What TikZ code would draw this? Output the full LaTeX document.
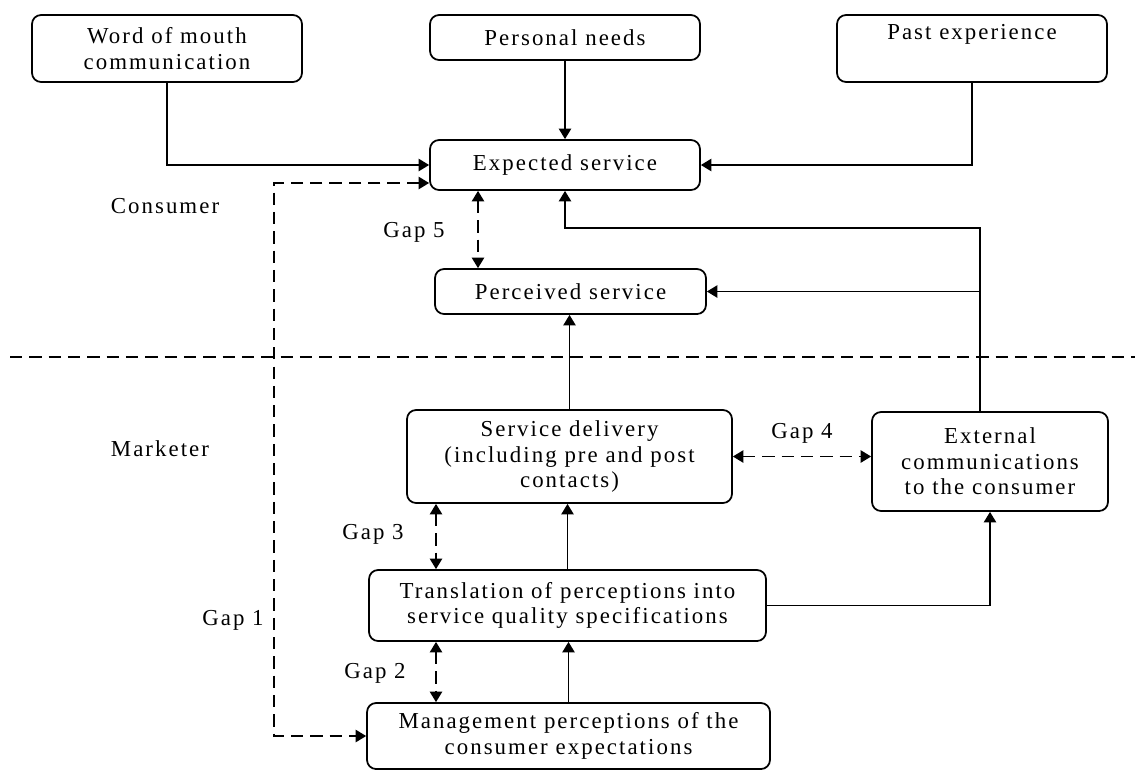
\documentclass[tikz,border=0pt]{standalone}
\usepackage{fontspec}
\setmainfont{Liberation Serif}[LetterSpace=9]
\usetikzlibrary{arrows.meta}
\tikzset{
  box/.style={draw, rounded corners=0.18cm, align=center, inner sep=0pt},
  flow/.style={-{Triangle[length=6pt,width=7pt]}},
  gapline/.style={dash pattern=on 7pt off 4pt, {Triangle[length=6pt,width=7pt]}-{Triangle[length=6pt,width=7pt]}},
}
\begin{document}
\begin{tikzpicture}[x=0.02cm, y=-0.02cm, line width=1pt, every node/.style={font=\fontsize{13}{14.5}\selectfont}]
  \useasboundingbox (0,0) rectangle (1135,769);
  \node[box, minimum width=5.4cm, minimum height=1.34cm] (mouth) at (167,48.5) {Word of mouth\\communication};
  \node[box, minimum width=5.4cm, minimum height=0.9cm] (needs) at (565,37.5) {Personal needs};
  \node[box, minimum width=5.4cm, minimum height=1.34cm] (past) at (972,48.5) {Past experience\\\strut};
  \node[box, minimum width=5.4cm, minimum height=1cm] (expected) at (565,165) {Expected service};
  \node[box, minimum width=5.42cm, minimum height=0.9cm] (perceived) at (570.5,291.5) {Perceived service};
  \node[box, minimum width=6.5cm, minimum height=1.86cm] (delivery) at (569.5,456.5) {Service delivery\\(including pre and post\\contacts)};
  \node[box, minimum width=4.72cm, minimum height=1.98cm] (external) at (990,461.5) {External\\communications\\to the consumer};
  \node[box, minimum width=7.94cm, minimum height=1.42cm] (translation) at (567.5,605.5) {Translation of perceptions into\\service quality specifications};
  \node[box, minimum width=8.06cm, minimum height=1.32cm] (mgmt) at (568.5,736) {Management perceptions of the\\consumer expectations};

  \node (consumer) at (165,206) {Consumer};
  \node (marketer) at (160,449) {Marketer};
  \node (gap1) at (233,620) {Gap 1};
  \node (gap2) at (375,673) {Gap 2};
  \node (gap3) at (373,534) {Gap 3};
  \node (gap4) at (802,433) {Gap 4};
  \node (gap5) at (414,232) {Gap 5};

  \coordinate (divl) at (10,357);
  \coordinate (divr) at (1135,357);
  \draw[dash pattern=on 7pt off 4pt] (divl) -- (divr);

  \draw[flow] (mouth.south) |- (expected.west);
  \draw[flow] (needs) -- (expected);
  \draw[flow] (past.south) |- (expected.east);
  \coordinate (bend) at (980,228);
  \draw[flow] (external.north -| bend) -- (bend) -| (expected.south);
  \draw[flow] (bend |- perceived.east) -- (perceived.east);
  \draw[flow] (delivery.north) -- (delivery.north |- perceived.south);
  \draw[flow] (translation.north) -- (translation.north |- delivery.south);
  \draw[flow] (mgmt.north) -- (mgmt.north |- translation.south);
  \draw[flow] (translation.east) -| (external.south);

  \coordinate (g1) at (274,183);
  \coordinate (g5) at (478,0);
  \coordinate (g23) at (436,0);
  \draw[gapline] (g1 -| expected.west) -- (g1) |- (mgmt.west);
  \draw[gapline] (expected.south -| g5) -- (perceived.north -| g5);
  \draw[gapline] (delivery.south -| g23) -- (translation.north -| g23);
  \draw[gapline] (translation.south -| g23) -- (mgmt.north -| g23);
  \draw[gapline] (delivery.east) -- (delivery.east -| external.west);
\end{tikzpicture}
\end{document}
